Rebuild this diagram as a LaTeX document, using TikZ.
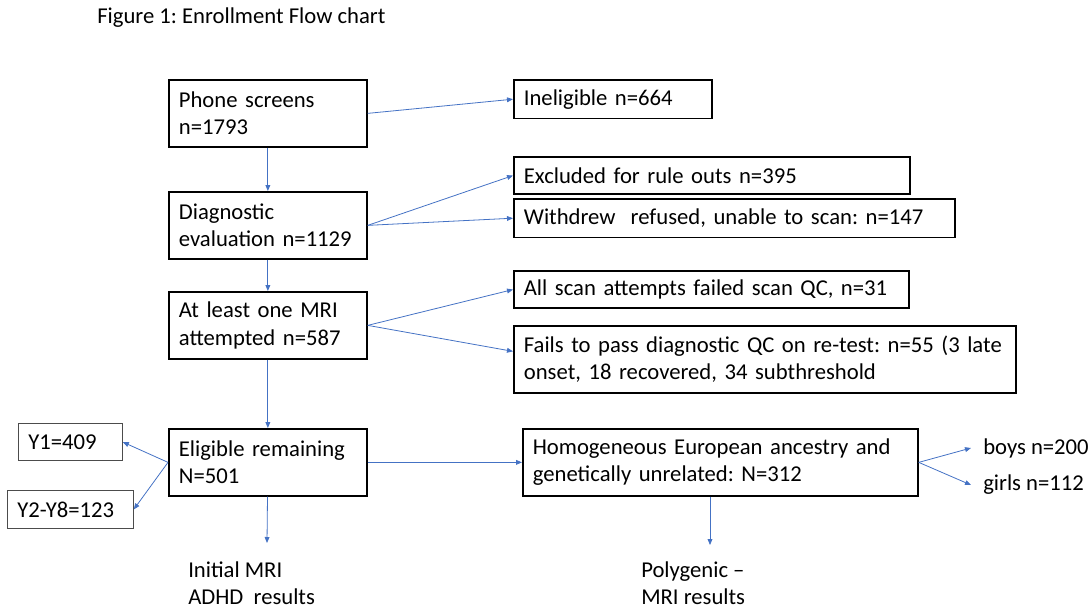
\documentclass[tikz,border=0pt]{standalone}
\usepackage{fontspec}
\setmainfont{Carlito}
\usepackage{tikz}
\usetikzlibrary{arrows.meta}
\definecolor{flowblue}{RGB}{68,114,196}
\frenchspacing

\begin{document}
\begin{tikzpicture}[x=0.75pt,y=-0.75pt,
  flow box/.style={draw,line width=1.3pt,align=left,anchor=north west,inner xsep=7.5pt,minimum height=50.25pt,font=\fontsize{17}{20.5}\selectfont},
  side box/.style={flow box,line width=0.6pt,draw=black!70},
  flow arrow/.style={flowblue,line width=0.6pt,-{Triangle[length=4.5pt,width=3.6pt]}},
  note text/.style={align=left,anchor=west,inner sep=0pt,font=\fontsize{17}{20.5}\selectfont}]
\useasboundingbox (0,0) rectangle (1092,610);
\node[note text] (title) at (97,18) {Figure 1: Enrollment Flow chart};
% main column
\node[flow box,text width=133.5pt] (phone) at (168,79) {Phone screens\\n=1793};
\node[flow box,text width=133.5pt] (diag) at (168,191) {Diagnostic\\evaluation n=1129};
\node[flow box,text width=133.5pt] (mri) at (168,291) {At least one MRI\\attempted n=587};
\node[flow box,text width=133.5pt] (elig) at (168,428) {Eligible remaining\\N=501};
% exclusions
\node[flow box,text width=133.5pt,minimum height=29pt] (inelig) at (513,79) {Ineligible n=664};
\node[flow box,text width=282pt,minimum height=28pt] (ruleout) at (513,156) {Excluded for rule outs n=395};
\node[flow box,text width=315.75pt,minimum height=29pt] (withdrew) at (513,198) {Withdrew\ \ refused, unable to scan: n=147};
\node[flow box,text width=281.25pt,minimum height=28pt] (scanqc) at (513,270) {All scan attempts failed scan QC, n=31};
\node[flow box,text width=361.5pt] (diagqc) at (513,325) {Fails to pass diagnostic QC on re-test: n=55 (3 late\\onset, 18 recovered, 34 subthreshold};
% bottom row
\node[flow box,text width=281.25pt] (homog) at (522,428) {Homogeneous European ancestry and\\genetically unrelated: N=312};
\node[side box,text width=63pt,minimum height=28pt] (yone) at (18,423) {Y1=409};
\node[side box,text width=79.5pt,minimum height=28.5pt] (ylater) at (7,490) {Y2-Y8=123};
\node[note text,inner xsep=9pt] (boys) at (971,448) {boys n=200};
\node[note text,inner xsep=9pt] (girls) at (971,485) {girls n=112};
\node[note text] (adhd) at (188,583) {Initial MRI\\ADHD\ \ results};
\node[note text] (pgs) at (641,583) {Polygenic --\\MRI results};
\coordinate (adhdtip) at (267,543);
\coordinate (pgstip) at (710,545);
% arrows
\draw[flow arrow] (phone) -- (diag);
\draw[flow arrow] (diag) -- (mri);
\draw[flow arrow] (mri) -- (elig);
\draw[flow arrow] (elig) -- (adhdtip);
\draw[flow arrow] (phone.east) -- (inelig.west);
\draw[flow arrow] (diag.east) -- (ruleout.west);
\draw[flow arrow] (diag.east) -- (withdrew.west);
\draw[flow arrow] (mri.east) -- (scanqc.west);
\draw[flow arrow] (mri.east) -- ([yshift=6pt]diagqc.west);
\draw[flow arrow] (elig) -- (homog);
\draw[flow arrow] (elig.west) -- (yone.east);
\draw[flow arrow] (elig.west) -- (ylater.east);
\draw[flow arrow] (homog.east) -- (boys.west);
\draw[flow arrow] (homog.east) -- (girls.west);
\draw[flow arrow] (homog.south -| pgstip) -- (pgstip); % to polygenic
\end{tikzpicture}
\end{document}
